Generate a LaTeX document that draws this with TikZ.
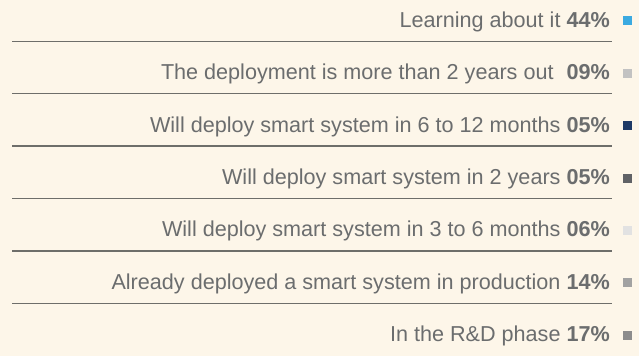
\documentclass[tikz,border=0pt]{standalone}
\usepackage{fontspec}
\setmainfont{Liberation Sans}
\definecolor{bg}{HTML}{FDF6E9}
\definecolor{txt}{HTML}{6B6D6E}
\definecolor{rule}{HTML}{6E6E6A}
\definecolor{cA}{HTML}{3BAAE1}
\definecolor{cB}{HTML}{C2C2C2}
\definecolor{cC}{HTML}{1E3A66}
\definecolor{cD}{HTML}{606266}
\definecolor{cE}{HTML}{E2E2E2}
\definecolor{cF}{HTML}{A2A2A2}
\definecolor{cG}{HTML}{8C8C8C}
\tikzset{
  lab/.style={anchor=base east, inner sep=0pt, text=txt, font=\fontsize{21.6}{24}\selectfont},
  sq/.style={minimum size=9pt, inner sep=0pt, draw=none},
  sep/.style={draw=rule, line width=1.4pt}
}
\begin{document}
\begin{tikzpicture}[x=1pt,y=-1pt]
\fill[bg] (0,0) rectangle (639,356);
\useasboundingbox (0,0) rectangle (639,356);
\node[lab] (t1) at (610,27.3) {Learning about it \textbf{44\%}};
\node[lab] (t2) at (610,79.7) {The deployment is more than 2 years out\hspace{0.6em}\textbf{09\%}};
\node[lab] (t3) at (610,132.1) {Will deploy smart system in 6 to 12 months \textbf{05\%}};
\node[lab] (t4) at (610,184.5) {Will deploy smart system in 2 years \textbf{05\%}};
\node[lab] (t5) at (610,236.9) {Will deploy smart system in 3 to 6 months \textbf{06\%}};
\node[lab] (t6) at (610,289.3) {Already deployed a smart system in production \textbf{14\%}};
\node[lab] (t7) at (610,341.7) {In the R\&D phase \textbf{17\%}};
\node[sq, fill=cA] (s1) at (627.5,20.8) {};
\node[sq, fill=cB] (s2) at (627.5,73.2) {};
\node[sq, fill=cC] (s3) at (627.5,125.6) {};
\node[sq, fill=cD] (s4) at (627.5,178.0) {};
\node[sq, fill=cE] (s5) at (627.5,230.4) {};
\node[sq, fill=cF] (s6) at (627.5,282.8) {};
\node[sq, fill=cG] (s7) at (627.5,335.2) {};
\coordinate (l1a) at (12,41.3); \coordinate (l1b) at (611.5,41.3);
\coordinate (l2a) at (12,93.7); \coordinate (l2b) at (611.5,93.7);
\coordinate (l3a) at (12,146.1); \coordinate (l3b) at (611.5,146.1);
\coordinate (l4a) at (12,198.5); \coordinate (l4b) at (611.5,198.5);
\coordinate (l5a) at (12,250.9); \coordinate (l5b) at (611.5,250.9);
\coordinate (l6a) at (12,303.3); \coordinate (l6b) at (611.5,303.3);
\draw[sep] (l1a) -- (l1b);
\draw[sep] (l2a) -- (l2b);
\draw[sep] (l3a) -- (l3b);
\draw[sep] (l4a) -- (l4b);
\draw[sep] (l5a) -- (l5b);
\draw[sep] (l6a) -- (l6b);
\end{tikzpicture}
\end{document}
